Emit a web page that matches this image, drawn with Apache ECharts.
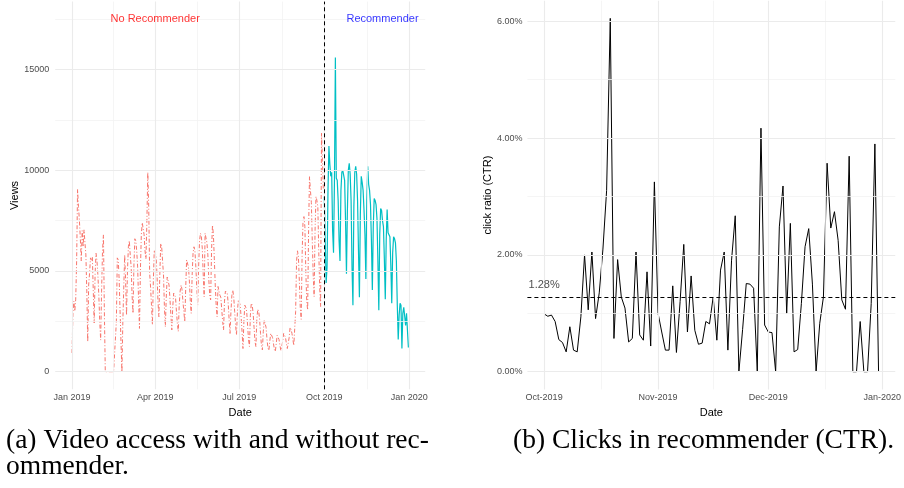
<!DOCTYPE html>
<html><head><meta charset="utf-8">
<script src="https://cdn.jsdelivr.net/npm/echarts@6/dist/echarts.min.js"></script>
<style>html,body{margin:0;padding:0;background:#fff}#c{width:904px;height:488px}</style>
</head><body><div id="c"></div>
<script>
// ---------------- DATA ----------------
const viewsNoRecStart = '2019-01-01';
const viewsNoRec = [
930,2900,3500,3000,3600,5500,9050,8200,7500,6600,
5500,7000,6200,7040,6400,5800,4000,1490,4300,4900,
5650,5500,5700,4000,2420,4900,5880,5500,4800,3800,
2500,1570,4000,6000,6790,3000,0,0,0,0,
0,0,0,0,0,0,0,0,2500,5650,
5550,4600,3000,1500,0,2500,4200,5800,4500,2800,
5000,6200,6500,5800,5200,3800,2900,5300,6600,6500,
6000,5200,3600,2150,5000,6800,7400,7100,6800,6000,
5600,7400,9900,8200,4900,4200,3300,2320,4500,6040,
5900,5700,4800,3500,2730,4800,6370,6200,5500,4800,
3200,2230,3700,4700,4500,4300,3600,2800,2070,3200,
3900,3890,3700,3000,2400,2000,3300,4000,4300,4100,
3500,3000,2480,4100,5550,5500,5200,4500,3500,2900,
4800,5900,6200,6000,5200,4200,3300,5200,6500,6870,
6700,6100,4800,3720,6870,6790,6400,5800,4600,3800,
3560,6000,7280,6800,5600,4300,3300,2730,4230,4000,
3800,3700,3100,2500,2070,3500,4000,4050,3900,3400,
2600,1900,3000,3800,4050,3700,3000,2300,1820,3000,
3560,3450,3300,2700,2000,1150,2500,3300,3200,3000,
2300,1600,1250,2800,3400,3300,2900,2200,1500,1240,
2600,3100,3000,2600,1900,1300,1080,2000,2560,2500,
2200,1600,1200,1050,1500,1900,1850,1700,1400,1100,
1000,1400,1800,1750,1600,1300,1050,990,1500,1900,
1800,1700,1400,1150,1100,1700,2200,2100,1900,1600,
1300,1240,3000,5500,6000,5700,4500,3200,2600,5800,
7500,7700,7200,5000,3500,3060,7000,9680,9000,8400,
6500,4800,3730,7000,8690,8500,8200,6000,4200,3230,
11840,10500,9000
];
const viewsRecStart = '2019-10-01';
const viewsRec = [
8700,6500,4400,5200,9000,11200,10300,9700,9900,7000,
5900,9500,15600,9600,9500,8500,6500,5500,9000,9900,
10000,10000,9500,7500,4860,8000,10000,10350,9800,8500,
5200,3300,8200,9900,10200,9800,8500,6000,3700,7800,
9700,9400,9000,8000,6800,4600,8500,10200,9300,9000,
8300,6500,4050,7200,8600,8500,8300,7600,5500,3050,
6800,8100,8000,7500,7200,5600,3600,6500,8050,6900,
6800,6700,5300,3400,5900,6700,6600,6400,5500,3300,
1600,2800,3400,3300,1150,2900,3200,3200,2300,2900,
2850,1200
];
const ctrStart = '2019-10-01';
const ctrValues = [ // percent
0.99,0.95,0.97,0.86,0.55,0.50,0.34,0.77,0.37,0.34,
0.94,2.00,1.06,2.05,0.91,1.35,2.10,3.10,6.05,0.57,
1.92,1.28,1.09,0.51,0.57,2.05,0.63,0.54,1.71,0.44,
3.25,1.00,0.68,0.37,0.37,1.47,0.33,1.20,2.18,0.68,
1.64,0.71,0.47,0.49,0.86,0.82,1.28,0.54,1.74,2.05,
0.37,1.91,2.67,0,0.72,1.51,1.50,1.43,0,4.17,
0.80,0.68,0.67,0,2.48,3.18,1.00,2.54,0.34,0.38,
1.17,2.14,2.45,1.50,0,0.83,1.28,3.57,2.46,2.74,
2.25,1.23,1.07,3.69,0,0,0.86,0,0,1.17,
3.90,0
];
const ctrMean = 1.28;
const ctrMeanLabel = '1.28%';
const periodLabels = ['No Recommender', 'Recommender'];
const periodLabelDates = ['2019-04-01', '2019-12-03'];
const periodLabelY = 17500;
const leftYTicks = [0, 5000, 10000, 15000];
const leftYMinor = [2500, 7500, 12500, 17500];
const leftXTicks = ['2019-01-01', '2019-04-01', '2019-07-01', '2019-10-01', '2020-01-01'];
const leftXLabels = ['Jan 2019', 'Apr 2019', 'Jul 2019', 'Oct 2019', 'Jan 2020'];
const rightYTicks = [0, 2, 4, 6];
const rightYMinor = [1, 3, 5];
const rightXTicks = ['2019-10-01', '2019-11-01', '2019-12-01', '2020-01-01'];
const rightXLabels = ['Oct-2019', 'Nov-2019', 'Dec-2019', 'Jan-2020'];
const splitDate = '2019-10-01';
const captionA = ['(a) Video access with and without rec-', 'ommender.'];
const captionB = '(b) Clicks in recommender (CTR).';

// ---------------- HELPERS ----------------
function dayTs(s, i) { const p = s.split('-').map(Number); return Date.UTC(p[0], p[1] - 1, p[2] + (i || 0)); }
function series(start, vals) { return vals.map((v, i) => [dayTs(start, i), v]); }
function mids(arr) { const r = []; for (let i = 0; i < arr.length - 1; i++) r.push((arr[i] + arr[i + 1]) / 2); return r; }
function expand(a, b, f) { const s = b - a; return [a - s * f, b + s * f]; }

const FONT = 'Liberation Sans';
const MAJ = { color: '#EBEBEB', width: 1.1, type: 'solid' };
const MIN = { color: '#F3F3F3', width: 0.8, type: 'solid' };
const CLEAR = 'rgba(0,0,0,0)';

const lXT = leftXTicks.map(s => dayTs(s));
const rXT = rightXTicks.map(s => dayTs(s));
const lXR = expand(dayTs(viewsNoRecStart), dayTs(viewsRecStart, viewsRec.length - 1), 0.05);
const rXR = expand(dayTs(ctrStart), dayTs(ctrStart, ctrValues.length - 1), 0.05);
const lYR = expand(0, periodLabelY, 0.05);
const rYR = expand(0, Math.max(...ctrValues), 0.05);

function gridLines(xi, xMaj, xMin, yMaj, yMin) {
  const d = [];
  xMin.forEach(v => d.push({ xAxis: v, lineStyle: MIN }));
  yMin.forEach(v => d.push({ yAxis: v, lineStyle: MIN }));
  xMaj.forEach(v => d.push({ xAxis: v, lineStyle: MAJ }));
  yMaj.forEach(v => d.push({ yAxis: v, lineStyle: MAJ }));
  return { type: 'line', xAxisIndex: xi, yAxisIndex: xi, data: [], z: 1, silent: true,
    markLine: { silent: true, symbol: ['none', 'none'], label: { show: false }, animation: false, data: d } };
}
function labelFor(ticks, labels) {
  return v => { for (let i = 0; i < ticks.length; i++) if (Math.abs(ticks[i] - v) < 3600000) return labels[i]; return ''; };
}
const axisCommon = { axisLine: { show: false }, axisTick: { show: false }, splitLine: { show: false } };

const chart = echarts.init(document.getElementById('c'), null, { renderer: 'canvas' });
chart.setOption({
  animation: false,
  backgroundColor: '#fff',
  grid: [
    { left: 55.2, top: 1.6, width: 370, height: 387.7 },
    { left: 527.4, top: 0.7, width: 372.2, height: 388.7 }
  ],
  xAxis: [
    Object.assign({ type: 'value', gridIndex: 0, min: lXR[0], max: lXR[1], scale: true,
      axisLabel: { customValues: lXT, formatter: labelFor(lXT, leftXLabels), color: '#4D4D4D', fontSize: 9, fontFamily: FONT, margin: 4 },
      name: 'Date', nameLocation: 'middle', nameGap: 15, nameTextStyle: { color: '#000', fontSize: 11, fontFamily: FONT } }, axisCommon),
    Object.assign({ type: 'value', gridIndex: 1, min: rXR[0], max: rXR[1], scale: true,
      axisLabel: { customValues: rXT, formatter: labelFor(rXT, rightXLabels), color: '#4D4D4D', fontSize: 9, fontFamily: FONT, margin: 4 },
      name: 'Date', nameLocation: 'middle', nameGap: 15, nameTextStyle: { color: '#000', fontSize: 11, fontFamily: FONT } }, axisCommon)
  ],
  yAxis: [
    Object.assign({ type: 'value', gridIndex: 0, min: lYR[0], max: lYR[1],
      axisLabel: { customValues: leftYTicks, formatter: v => String(v), color: '#4D4D4D', fontSize: 9, fontFamily: FONT, margin: 6 },
      name: 'Views', nameLocation: 'middle', nameGap: 32, nameTextStyle: { color: '#000', fontSize: 11, fontFamily: FONT } }, axisCommon),
    Object.assign({ type: 'value', gridIndex: 1, min: rYR[0], max: rYR[1],
      axisLabel: { customValues: rightYTicks, formatter: v => v.toFixed(2) + '%', color: '#4D4D4D', fontSize: 9, fontFamily: FONT, margin: 5 },
      name: 'click ratio (CTR)', nameLocation: 'middle', nameGap: 33, nameTextStyle: { color: '#000', fontSize: 11, fontFamily: FONT } }, axisCommon)
  ],
  series: [
    gridLines(0, lXT, mids(lXT), leftYTicks, leftYMinor),
    gridLines(1, rXT, mids(rXT), rightYTicks, rightYMinor),
    { type: 'line', xAxisIndex: 0, yAxisIndex: 0, data: series(viewsNoRecStart, viewsNoRec), showSymbol: false, z: 3,
      lineStyle: { color: '#F8766D', width: 1, type: [4, 2, 1, 2] } },
    { type: 'line', xAxisIndex: 0, yAxisIndex: 0, data: series(viewsRecStart, viewsRec), showSymbol: false, z: 3,
      lineStyle: { color: '#00BFC4', width: 1.2 } },
    { type: 'line', xAxisIndex: 0, yAxisIndex: 0, data: [], z: 5, silent: true,
      markLine: { silent: true, symbol: ['none', 'none'], label: { show: false }, animation: false,
        data: [{ xAxis: dayTs(splitDate), lineStyle: { color: '#000', width: 1, type: [4, 3] } }] } },
    { type: 'line', xAxisIndex: 1, yAxisIndex: 1, data: series(ctrStart, ctrValues), showSymbol: false, z: 3,
      lineStyle: { color: '#000', width: 1 } },
    { type: 'line', xAxisIndex: 1, yAxisIndex: 1, data: [], z: 5, silent: true,
      markLine: { silent: true, symbol: ['none', 'none'], label: { show: false }, animation: false,
        data: [{ yAxis: ctrMean, lineStyle: { color: '#000', width: 1, type: [4, 3] } }] } },
    { type: 'scatter', xAxisIndex: 0, yAxisIndex: 0, symbolSize: 2, itemStyle: { color: CLEAR }, silent: true, z: 6,
      label: { show: true, position: 'inside', fontSize: 11, fontFamily: FONT },
      data: [
        { value: [dayTs(periodLabelDates[0]), periodLabelY], label: { color: '#FF0000', formatter: periodLabels[0] } },
        { value: [dayTs(periodLabelDates[1]), periodLabelY], label: { color: '#0000FF', formatter: periodLabels[1] } }
      ] },
    { type: 'scatter', xAxisIndex: 1, yAxisIndex: 1, symbolSize: 2, itemStyle: { color: CLEAR }, silent: true, z: 6,
      label: { show: true, position: 'inside', fontSize: 11, fontFamily: FONT, color: '#222' },
      data: [{ value: [dayTs(ctrStart), 1.485], label: { formatter: ctrMeanLabel } }] }
  ],
  graphic: [
    { type: 'text', x: 6, y: 441, style: { text: captionA[0], font: '27.5px "Liberation Serif"', fill: '#000', textVerticalAlign: 'middle', verticalAlign: 'middle' } },
    { type: 'text', x: 6, y: 467, style: { text: captionA[1], font: '27.5px "Liberation Serif"', fill: '#000', textVerticalAlign: 'middle', verticalAlign: 'middle' } },
    { type: 'text', x: 513, y: 441, style: { text: captionB, font: '27.5px "Liberation Serif"', fill: '#000', textVerticalAlign: 'middle', verticalAlign: 'middle' } }
  ]
});
</script>
</body></html>
